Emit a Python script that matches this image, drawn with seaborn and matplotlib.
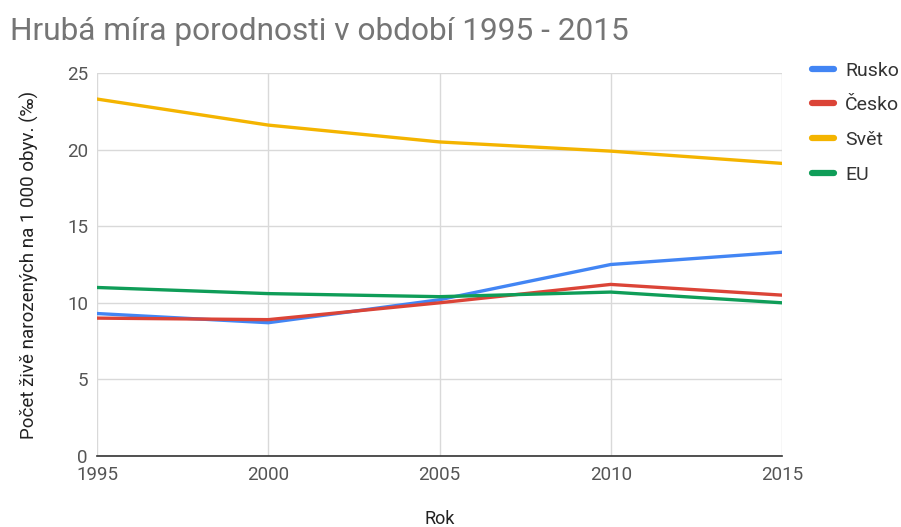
import pandas as pd
import matplotlib.pyplot as plt
import seaborn as sns

# Data
years = [1995, 2000, 2005, 2010, 2015]
rusko = [9.3, 8.7, 10.2, 12.5, 13.3]
cesko = [9.0, 8.9, 10.0, 11.2, 10.5]
svet = [23.3, 21.6, 20.5, 19.9, 19.1]
eu = [11.0, 10.6, 10.4, 10.7, 10.0]

series_names = ["Rusko", "Česko", "Svět", "EU"]
colors = ["#4285F4", "#DB4437", "#F4B400", "#0F9D58"]
y_ticks = [0, 5, 10, 15, 20, 25]


def build_frame():
    rows = []
    for name, vals in zip(series_names, [rusko, cesko, svet, eu]):
        for yr, v in zip(years, vals):
            rows.append({"Rok": yr, "hodnota": v, "serie": name})
    return pd.DataFrame(rows)


def main():
    sns.set_style("white")
    plt.rcParams["font.family"] = ["Roboto", "DejaVu Sans"]

    df = build_frame()
    fig = plt.figure(figsize=(9.01, 5.27), dpi=100)
    ax = fig.add_axes([97 / 901, 1 - 456 / 527, (782 - 97) / 901, (456 - 73) / 527])

    sns.lineplot(data=df, x="Rok", y="hodnota", hue="serie", hue_order=series_names,
                 palette=colors, linewidth=2.4, ax=ax, legend=True)

    ax.set_xlim(1995, 2015)
    ax.set_ylim(0, 25)
    ax.set_xticks(years)
    ax.set_yticks(y_ticks)
    ax.grid(True, color="#d9d9d9", linewidth=1)
    ax.set_axisbelow(True)
    for side in ["top", "right", "left"]:
        ax.spines[side].set_visible(False)
    ax.spines["bottom"].set_color("#333333")
    ax.spines["bottom"].set_linewidth(1.2)
    ax.spines["bottom"].set_zorder(5)
    ax.tick_params(axis="both", length=0, labelsize=13.5, colors="#555555")
    ax.tick_params(axis="x", pad=7)
    ax.tick_params(axis="y", pad=6.5)

    ax.set_xlabel("Rok", fontsize=13, color="#222222", labelpad=19)
    ax.set_ylabel("Počet živě narozených na 1 000 obyv. (‰)", fontsize=13.5,
                  color="#222222", labelpad=20)

    handles, labels = ax.get_legend_handles_labels()
    ax.legend(handles, labels, loc="upper left", bbox_to_anchor=(1.044, 1.03),
              frameon=False, fontsize=14, handlelength=1.1, handletextpad=0.6,
              labelspacing=0.86, borderpad=0, borderaxespad=0,
              labelcolor="#333333")
    for line in ax.get_legend().get_lines():
        line.set_linewidth(4.5)

    fig.text(10 / 901, 1 - 31 / 527, "Hrubá míra porodnosti v období 1995 - 2015",
             fontsize=22.8, color="#757575", va="center", ha="left")

    plt.savefig("out.png", dpi=100)


if __name__ == "__main__":
    main()
